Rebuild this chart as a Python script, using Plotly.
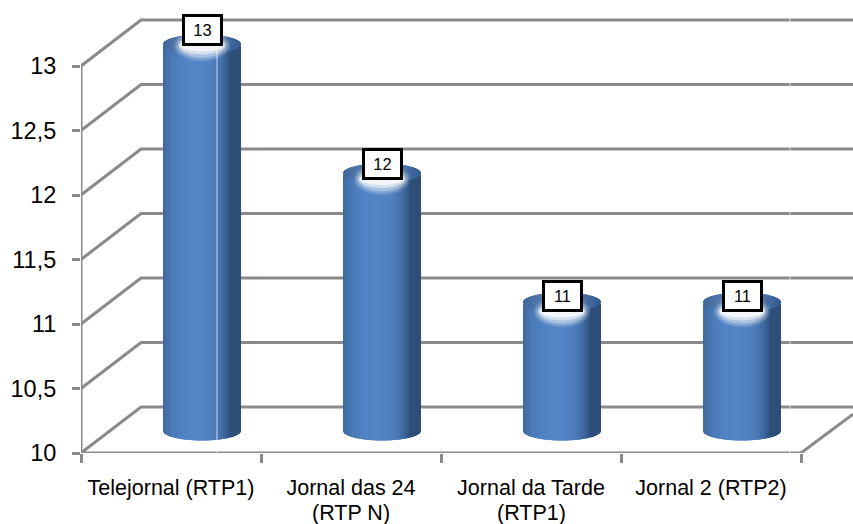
import numpy as np
import plotly.graph_objects as go

categories = ["Telejornal (RTP1)", "Jornal das 24<br>(RTP N)", "Jornal da Tarde<br>(RTP1)", "Jornal 2 (RTP2)"]
values = [13, 12, 11, 11]
y_ticks = [10, 10.5, 11, 11.5, 12, 12.5, 13]

PX_X, PX_Y = 180.0, 129.0          # pixels per data unit
W, H = 853, 524
LEFT, BOTTOM = 81, 71
GRID = "#8a8a8a"
xr = [-0.5, -0.5 + (W - LEFT) / PX_X]
yr = [10, 10 + (H - BOTTOM) / PX_Y]
dx, dy = 60 / PX_X, 46 / PX_Y      # wall depth
bx, by = 31 / PX_X, 22 / PX_Y      # bar offset inside the depth
half_w = 38.5 / PX_X
cap = 9.5 / PX_Y
label_up = [14, 9.5, 6, 6]         # pixels above the bar top


def lerp(c1, c2, t):
    return tuple(a + (b - a) * t for a, b in zip(c1, c2))


def css(c):
    return "rgb(%d,%d,%d)" % tuple(round(v) for v in c)


def side_col(u):
    t = 1 - min(abs(u + 0.12) / (1.12 if u < -0.12 else 0.88), 1) ** 2.8
    return css(lerp((44, 78, 120), (82, 132, 198), t))


def cap_col(u):
    t = 1 - min(abs(u + 0.1) / 1.1, 1) ** 2
    return css(lerp((50, 90, 142), (88, 126, 178), t))


fig = go.Figure()

# walls: diagonals and back lines for every tick
gx, gy = [], []
for t in y_ticks:
    gx += [xr[0], xr[0] + dx, xr[1], None]
    gy += [t, t + dy, t + dy, None]
fig.add_trace(go.Scatter(x=gx, y=gy, mode="lines", line=dict(color=GRID, width=3),
                         hoverinfo="skip", showlegend=False, cliponaxis=False))
# axes
end = 3.5
fig.add_trace(go.Scatter(
    x=[xr[0], xr[0], None, xr[0], end, xr[1], None],
    y=[max(y_ticks), 10, None, 10, 10, 10 + (xr[1] - end) * PX_X / 51 * 38 / PX_Y, None],
    mode="lines", line=dict(color=GRID, width=3), hoverinfo="skip",
    showlegend=False, cliponaxis=False))

# cylinders built from thin bars
N = 77
edges = np.linspace(-1, 1, N + 1)
us = (edges[:-1] + edges[1:]) / 2
sx, sb, sh, sc = [], [], [], []
for i, v in enumerate(values):
    for u in us:
        arc = cap * np.sqrt(1 - u * u)
        sx.append(i + bx + u * half_w)
        sb.append(10 + by - arc)
        sh.append(v - 10 + 0)
        sc.append(side_col(u))
for i, v in enumerate(values):
    for u in us:
        arc = cap * np.sqrt(1 - u * u)
        sx.append(i + bx + u * half_w)
        sb.append(v + by - arc)
        sh.append(2 * arc)
        sc.append(cap_col(u))
fig.add_trace(go.Bar(x=sx, y=sh, base=sb, width=2 * half_w / N * 1.4,
                     marker=dict(color=sc, line=dict(width=0)), xaxis="x2", yaxis="y2",
                     hoverinfo="skip", showlegend=False))

# white glow under the labels
th = np.linspace(0, 2 * np.pi, 60)
for i, v in enumerate(values):
    yc = v + by + (label_up[i] - 15.5) / PX_Y
    for rx, ry, op in [(28, 16, 0.14), (26, 14, 0.2), (24, 12, 0.3), (23, 9, 0.5), (22, 6, 0.7)]:
        fig.add_trace(go.Scatter(
            x=i + bx + rx / PX_X * np.cos(th), y=yc + ry / PX_Y * np.sin(th),
            mode="lines", line=dict(width=0), fill="toself",
            fillcolor=f"rgba(255,255,255,{op})", xaxis="x2", yaxis="y2",
            hoverinfo="skip", showlegend=False))

# faint vertical hairlines seen in the picture
hair = [0.2556, 3.439]
hx, hy = [], []
for h in hair:
    hx += [h, h, None]
    hy += [9.98, yr[1] - 0.1, None]
fig.add_trace(go.Scatter(x=hx, y=hy, mode="lines",
                         line=dict(color="rgba(255,255,255,0.7)", width=1),
                         xaxis="x2", yaxis="y2", hoverinfo="skip", showlegend=False))

for i, v in enumerate(values):
    fig.add_annotation(x=i + bx, y=v + by, xref="x2", yref="y2", text=str(v), showarrow=False,
                       yshift=label_up[i], width=35, height=26, bgcolor="white",
                       bordercolor="black", borderwidth=3, borderpad=0,
                       font=dict(family="Liberation Sans", size=16.5, color="black"))

# first lines as tick labels, second lines placed closer than the default line spacing
first_lines = [c.split("<br>")[0] for c in categories]
for i, c in enumerate(categories):
    if "<br>" in c:
        fig.add_annotation(x=i, y=0, xref="x", yref="paper", yanchor="middle", showarrow=False,
                           yshift=-60, text=c.split("<br>")[1],
                           font=dict(family="Liberation Sans", size=21.5, color="black"))

fig.update_layout(
    width=W, height=H, margin=dict(l=LEFT, r=0, t=0, b=BOTTOM),
    paper_bgcolor="white", plot_bgcolor="white", separators=",.",
    barmode="overlay", showlegend=False,
    font=dict(family="Liberation Sans", color="black"),
    xaxis=dict(range=xr, tickmode="array", tickvals=list(range(len(categories))),
               ticktext=first_lines, ticks="", showgrid=False, zeroline=False, showline=False,
               tickfont=dict(size=21.5), ticklabelstandoff=19, tickangle=0,
               minor=dict(tickmode="array", tickvals=[-0.5, 0.5, 1.5, 2.5, 3.5], ticks="outside",
                          ticklen=9, tickwidth=3, tickcolor=GRID, showgrid=False)),
    yaxis=dict(range=yr, tickmode="array", tickvals=y_ticks, tickformat=".1~f", ticks="outside",
               ticklen=8, tickwidth=3, tickcolor=GRID, showgrid=False, zeroline=False,
               showline=False, tickfont=dict(size=23.5), ticklabelstandoff=11),
    xaxis2=dict(range=xr, overlaying="x", visible=False, matches=None),
    yaxis2=dict(range=yr, overlaying="y", visible=False),
)

fig.write_html("out.html", config=dict(displayModeBar=False),
               post_script="document.body.style.margin='0';document.documentElement.style.overflow='hidden';")
